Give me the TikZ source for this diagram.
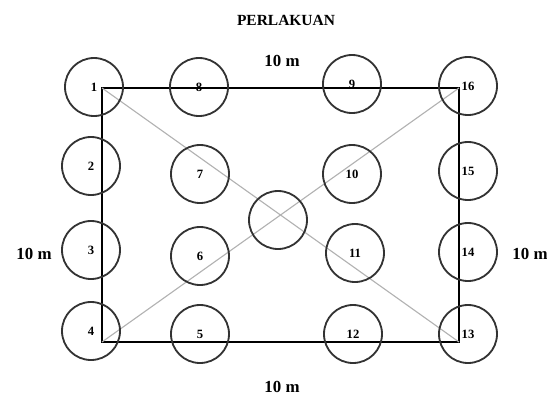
\documentclass[tikz,border=0pt]{standalone}
\usepackage{fontspec}
\setmainfont{Liberation Serif}
\tikzset{
  plant/.style={circle,draw=black!80,line width=1.3pt,minimum size=58*0.025cm,inner sep=0pt,
    font=\fontsize{9}{9}\selectfont\bfseries},
  dim/.style={font=\fontsize{12}{12}\selectfont\bfseries}
}

\begin{document}
\begin{tikzpicture}[x=0.025cm,y=-0.025cm]
  \useasboundingbox (0,0) rectangle (547,397);
  \coordinate (nw) at (102,88);
  \coordinate (ne) at (459,88);
  \coordinate (se) at (459,342);
  \coordinate (sw) at (102,342);
  \draw[line width=1.2pt] (nw) -- (ne) -- (se) -- (sw) -- cycle;
  \draw[gray!60,line width=.8pt] (nw) -- (se);
  \draw[gray!60,line width=.8pt] (sw) -- (ne);
  % plots
  \node[plant] (p1) at (94,87) {1};
  \node[plant] (p8) at (199,87) {8};
  \node[plant] (p9) at (352,84) {9};
  \node[plant] (p16) at (468,86) {16};
  \node[plant] (p2) at (91,166) {2};
  \node[plant] (p7) at (200,174) {7};
  \node[plant] (p10) at (352,174) {10};
  \node[plant] (p15) at (468,171) {15};
  \node[plant] (pc) at (278,220) {};
  \node[plant] (p3) at (91,250) {3};
  \node[plant] (p6) at (200,256) {6};
  \node[plant] (p11) at (355,253) {11};
  \node[plant] (p14) at (468,252) {14};
  \node[plant] (p4) at (91,331) {4};
  \node[plant] (p5) at (200,334) {5};
  \node[plant] (p12) at (353,334) {12};
  \node[plant] (p13) at (468,334) {13};
  % labels
  \node[dim,font=\fontsize{11}{11}\selectfont\bfseries] (title) at (286,20) {PERLAKUAN};
  \node[dim] (wtop) at (282,61) {10 m};
  \node[dim] (wbot) at (282,387) {10 m};
  \node[dim] (hleft) at (34,254) {10 m};
  \node[dim] (hright) at (530,254) {10 m};
\end{tikzpicture}
\end{document}
